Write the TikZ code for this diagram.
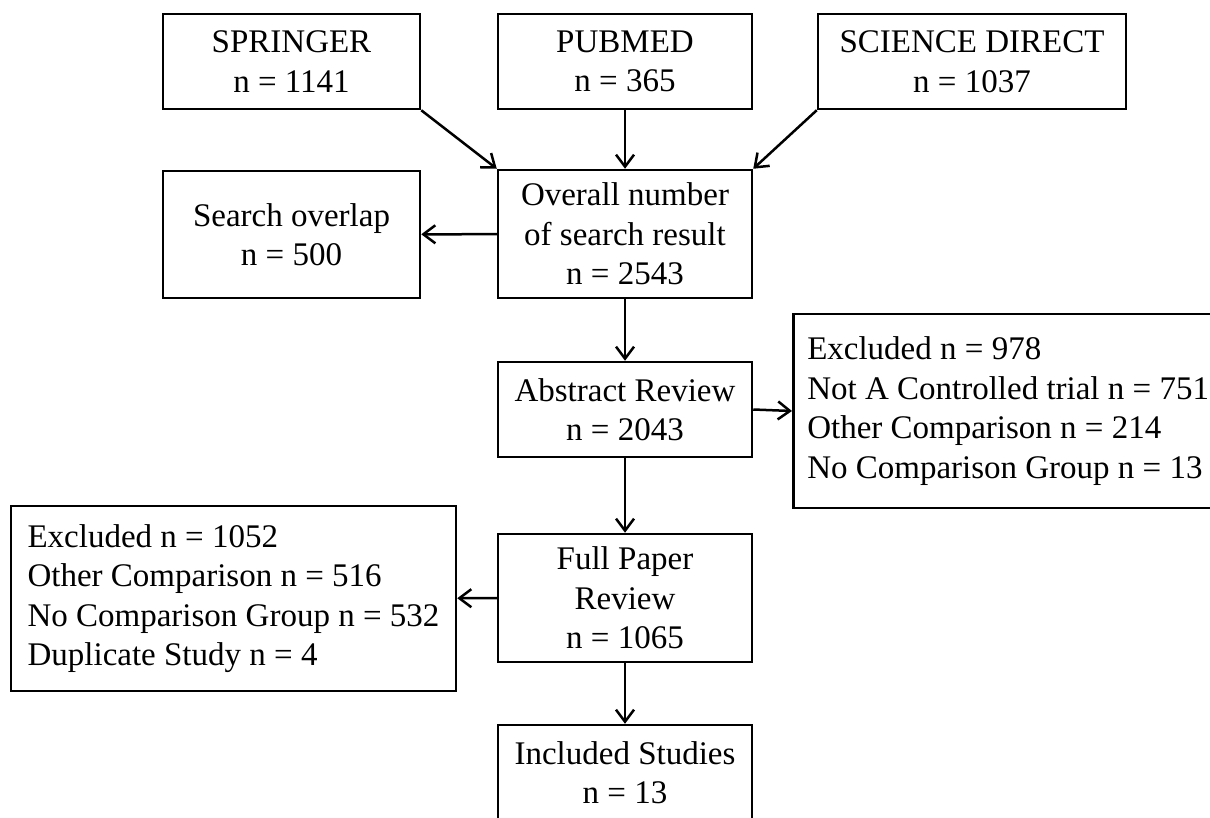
\documentclass[tikz,border=0pt]{standalone}
\usepackage{fontspec}
\setmainfont{Liberation Serif}
\usetikzlibrary{arrows.meta}
\begin{document}
\begin{tikzpicture}[x=1pt,y=-1pt,
  txt/.style={font=\fontsize{33}{39.5}\selectfont},
  box/.style={txt, draw, line width=2.5pt, align=center, inner sep=0pt},
  lbox/.style={txt, draw, line width=2.5pt, align=left, inner xsep=14pt, inner ysep=0pt},
  arr/.style={line width=2.5pt, -{Straight Barb[length=12pt,width=18pt]}}]
\clip (0,0) rectangle (1210,817);
\fill[white] (0,0) rectangle (1210,817);
\node[box, minimum width=257pt, minimum height=95pt] (spr) at (291.5,61.5) {SPRINGER\\n = 1141};
\node[box, minimum width=254pt, minimum height=95pt] (pub) at (625,61.5) {PUBMED\\n = 365};
\node[box, minimum width=308pt, minimum height=95pt] (sd) at (972,61.5) {SCIENCE DIRECT\\n = 1037};
\node[box, minimum width=254pt, minimum height=128pt] (all) at (625,234) {Overall number\\of search result\\n = 2543};
\node[box, minimum width=257pt, minimum height=127pt] (ovl) at (291.5,234.5) {Search overlap\\n = 500};
\node[box, minimum width=254pt, minimum height=95pt] (abs) at (625,409.5) {Abstract Review\\n = 2043};
\node[lbox, anchor=west, minimum height=194pt] (exa) at (792,411) {Excluded n = 978\\Not A Controlled trial n = 751\\Other Comparison n = 214\\No Comparison Group n = 13};
\node[box, minimum width=254pt, minimum height=128pt] (full) at (625,598) {Full Paper\\Review\\n = 1065};
\node[lbox, minimum width=445pt, minimum height=185pt] (exf) at (233.5,598.5) {Excluded n = 1052\\Other Comparison n = 516\\No Comparison Group n = 532\\Duplicate Study n = 4};
\node[box, minimum width=254pt, minimum height=95pt] (inc) at (625,772.5) {Included Studies\\n = 13};
\draw[arr] (spr.south east) -- (all.north west);
\draw[arr] (pub) -- (all);
\draw[arr] (sd.south west) -- (all.north east);
\draw[arr] (all) -- (ovl);
\draw[arr] (all) -- (abs);
\draw[arr] (abs.east) -- (exa.west);
\draw[arr] (abs) -- (full);
\draw[arr] (full) -- (exf);
\draw[arr] (full) -- (inc);
\end{tikzpicture}
\end{document}
